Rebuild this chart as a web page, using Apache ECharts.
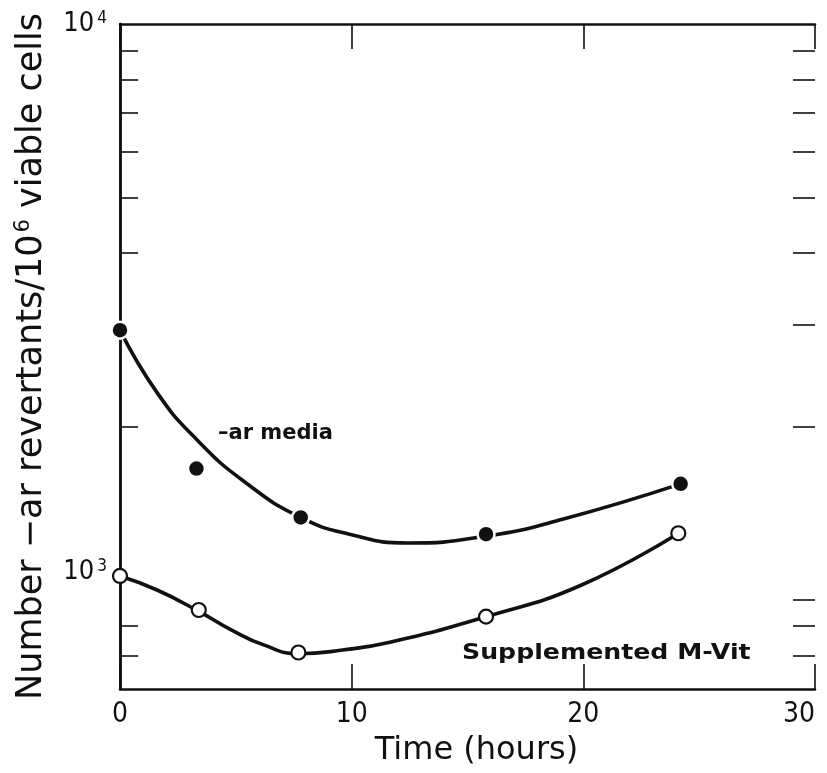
<!DOCTYPE html>
<html>
<head>
<meta charset="utf-8">
<script src="https://cdn.jsdelivr.net/npm/echarts@6/dist/echarts.min.js"></script>
<style>
  html, body { margin: 0; padding: 0; background: #fff; }
  #chart { width: 827px; height: 773px; }
</style>
</head>
<body>
<div id="chart"></div>
<script>
// Time axis (hours)
const xTickValues = [0, 10, 20, 30];

// Log axis: labelled decades and tick positions on each frame edge
const yLabelValues = [1000, 10000];
const leftEdgeTicks = [800, 900, 2000, 4000, 5000, 6000, 7000, 8000, 9000];
const rightEdgeTicks = [800, 900, 1000, 2000, 3000, 4000, 5000, 6000, 7000, 8000, 9000];

// -ar media: measured points
const arTimes = [0, 3.3, 7.8, 15.8, 24.2];
const arValues = [2940, 1690, 1390, 1300, 1590];

// -ar media: fitted curve
const arCurveTimes = [0, 1.6, 3.3, 5.4, 7.8, 9.9, 12.4, 15.8, 19.1, 24.2];
const arCurveValues = [2940, 2290, 1900, 1600, 1390, 1300, 1255, 1290, 1380, 1590];

// Supplemented M-Vit: measured points
const mvTimes = [0, 3.4, 7.7, 15.8, 24.1];
const mvValues = [1100, 960, 810, 935, 1305];

// Supplemented M-Vit: fitted curve
const mvCurveTimes = [0, 1.6, 3.4, 4.8, 6.2, 7.7, 9.6, 11.7, 15.8, 19.9, 24.1];
const mvCurveValues = [1100, 1040, 955, 887, 835, 806, 818, 845, 935, 1060, 1305];

const pairs = (xs, ys) => xs.map((x, i) => [x, ys[i]]);

const INK = '#111';
const X_MIN = 0, X_MAX = 30;
// tick lengths expressed along the time axis
const LEFT_TICK_SPAN = 0.78;
const RIGHT_TICK_SPAN = 0.95;
const labelFont = "'Liberation Sans Narrow', 'DejaVu Sans Condensed', sans-serif";
const titleFont = "'DejaVu Sans', sans-serif";

const decadeLabel = (v) => {
  const e = Math.round(Math.log10(v));
  if (v === 1000) return '{b|10}{s|' + e + '}\n{g| }';
  return '{b|10}{s|' + e + '}';
};

// Inward tick segments on the vertical frame edges
const frameTickSegments = [].concat(
  leftEdgeTicks.map(v => [{ coord: [X_MIN, v] }, { coord: [X_MIN + LEFT_TICK_SPAN, v] }]),
  rightEdgeTicks.map(v => [{ coord: [X_MAX - RIGHT_TICK_SPAN, v] }, { coord: [X_MAX, v] }])
);

const chart = echarts.init(document.getElementById('chart'));
chart.setOption({
  animation: false,
  backgroundColor: '#fff',
  grid: { left: 120, right: 12, top: 24, bottom: 84, containLabel: false },
  xAxis: [
    {
      type: 'value', position: 'bottom', min: X_MIN, max: X_MAX, interval: 10,
      name: 'Time (hours)', nameLocation: 'middle', nameGap: 46,
      nameTextStyle: { fontFamily: titleFont, fontSize: 32, color: INK, padding: [0, 0, 0, 18] },
      axisLine: { show: true, lineStyle: { color: INK, width: 2.5 } },
      axisTick: { show: true, inside: true, length: 25, lineStyle: { color: INK, width: 1.6 } },
      axisLabel: {
        show: true, margin: 12, fontFamily: labelFont, fontSize: 28, color: INK,
        customValues: xTickValues, alignMaxLabel: 'right'
      },
      splitLine: { show: false }
    },
    {
      type: 'value', position: 'top', min: X_MIN, max: X_MAX, interval: 10,
      axisLine: { show: true, lineStyle: { color: INK, width: 2.5 } },
      axisTick: { show: true, inside: true, length: 25, lineStyle: { color: INK, width: 1.6 } },
      axisLabel: { show: false },
      splitLine: { show: false }
    }
  ],
  yAxis: [
    {
      type: 'log', logBase: 10, position: 'left', min: 700, max: 10000,
      name: 'Number \u2212ar revertants/10{s|6} viable cells',
      nameLocation: 'middle', nameGap: 70, nameRotate: 90,
      nameTextStyle: {
        fontFamily: titleFont, fontSize: 35, color: INK,
        rich: { s: { fontFamily: titleFont, fontSize: 21, color: INK, verticalAlign: 'top', padding: [0, 0, 16, 2] } }
      },
      axisLine: { show: true, lineStyle: { color: INK, width: 2.5 } },
      axisTick: { show: false },
      axisLabel: {
        show: true, margin: 13, customValues: yLabelValues, formatter: decadeLabel,
        rich: {
          b: { fontFamily: labelFont, fontSize: 27, color: INK, lineHeight: 28 },
          s: { fontFamily: labelFont, fontSize: 17, color: INK, verticalAlign: 'top', padding: [0, 0, 10, 3] },
          g: { fontSize: 10, lineHeight: 56 }
        }
      },
      splitLine: { show: false }
    },
    {
      type: 'log', logBase: 10, position: 'right', min: 700, max: 10000,
      axisLine: { show: true, lineStyle: { color: INK, width: 2.5 } },
      axisTick: { show: false },
      axisLabel: { show: false },
      splitLine: { show: false }
    }
  ],
  series: [
    {
      name: '-ar media curve', type: 'line', smooth: 0.5, symbol: 'none',
      data: pairs(arCurveTimes, arCurveValues),
      lineStyle: { color: INK, width: 3.6 }, z: 2,
      markLine: {
        silent: true, symbol: ['none', 'none'], animation: false,
        label: { show: false },
        lineStyle: { color: INK, width: 1.6, type: 'solid' },
        emphasis: { disabled: true },
        data: frameTickSegments
      }
    },
    {
      name: 'Supplemented M-Vit curve', type: 'line', smooth: 0.5, symbol: 'none',
      data: pairs(mvCurveTimes, mvCurveValues),
      lineStyle: { color: INK, width: 3.6 }, z: 2
    },
    {
      name: '-ar media', type: 'scatter', symbol: 'circle', symbolSize: 17, clip: false,
      data: pairs(arTimes, arValues),
      itemStyle: { color: INK, borderColor: '#fff', borderWidth: 2.5, opacity: 1 }, z: 5
    },
    {
      name: 'Supplemented M-Vit', type: 'scatter', symbol: 'circle', symbolSize: 14, clip: false,
      data: pairs(mvTimes, mvValues),
      itemStyle: { color: '#fff', borderColor: INK, borderWidth: 2.2, opacity: 1 }, z: 5
    }
  ],
  graphic: [
    {
      type: 'text', left: 218, top: 423, z: 10,
      style: { text: '\u2013ar media', font: "bold 21px 'DejaVu Sans', sans-serif", fill: INK }
    },
    {
      type: 'text', left: 462, top: 643, z: 10, scaleX: 1.2,
      style: { text: 'Supplemented M-Vit', font: "bold 21px 'DejaVu Sans', sans-serif", fill: INK }
    }
  ]
});
</script>
</body>
</html>
